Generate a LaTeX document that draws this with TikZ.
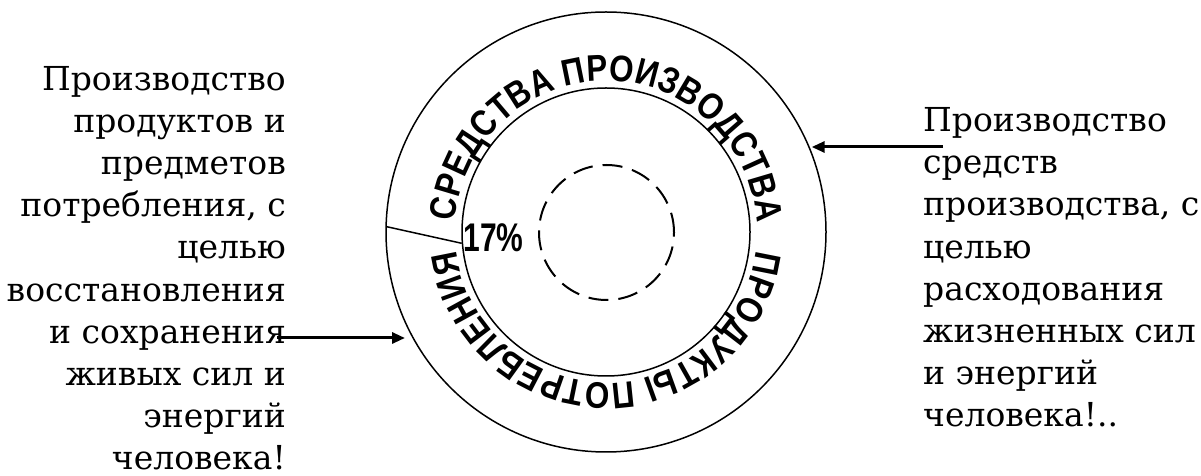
\documentclass[tikz,border=0pt]{standalone}
\usepackage{fontspec}
\setmainfont{DejaVu Serif}
\newfontfamily\arcfont[FakeStretch=0.85]{Liberation Sans}
\newfontfamily\pctfont[FakeStretch=0.75]{Liberation Sans}
\usetikzlibrary{decorations.text,arrows.meta}
\begin{document}
\begin{tikzpicture}[x=1pt,y=1pt,
  ring/.style={circle, draw, line width=1.5pt, inner sep=0pt, outer sep=0pt},
  arrowline/.style={line width=3pt, -{Triangle[length=13pt,width=11pt]}},
  sidetext/.style={font=\fontsize{33}{42.2}\selectfont, inner sep=0pt},
  pcttext/.style={font=\pctfont\bfseries\fontsize{40}{40}\selectfont, inner sep=0pt}
  ]
\useasboundingbox (0,0) rectangle (1201,476);
\coordinate (C) at (606,244);
\node[ring, minimum size=440pt] (outer) at (C) {};
\node[ring, minimum size=288pt] (inner) at (C) {};
\node[ring, line width=2pt, dash pattern=on 20pt off 10pt, minimum size=135pt] (core) at (606.5,243.5) {};
% divider
\coordinate (d1) at (386.7,249.3);
\coordinate (d2) at (461.7,232.7);
\draw[line width=1.5pt] (d1) -- (d2);
% arc texts
\path[decorate, decoration={text along path, text align=fit to path,
  text={|\arcfont\bfseries\fontsize{37}{37}\selectfont|СРЕДСТВА ПРОИЗВОДСТВА}}]
  ([shift={(176:151)}]C) arc[start angle=176, end angle=3.5, radius=151];
\path[decorate, decoration={text along path, text align=fit to path,
  text={|\arcfont\bfseries\fontsize{37}{37}\selectfont|ПРОДУКТЫ ПОТРЕБЛЕНИЯ}}]
  ([shift={(-7:151)}]C) arc[start angle=-7, end angle=-173, radius=151];
\node[pcttext] (pct) at (493.5,238.5) {17\%};
% side texts
\node[sidetext, align=right, anchor=base east] (lefttext) at (286,6)
  {Производство\\продуктов и\\предметов\\потребления, с\\целью\\восстановления\\и сохранения\\живых сил и\\энергий\\человека!};
\node[sidetext, align=left, anchor=base west] (righttext) at (923,49)
  {Производство\\средств\\производства, с\\целью\\расходования\\жизненных сил\\и энергий\\человека!..};
% arrows
\coordinate (lstart) at (277,138);
\coordinate (ltip) at (405,138);
\coordinate (rstart) at (943,329);
\coordinate (rtip) at (811.7,329);
\draw[arrowline] (lstart) -- (ltip);
\draw[arrowline] (rstart) -- (rtip);
\end{tikzpicture}
\end{document}
